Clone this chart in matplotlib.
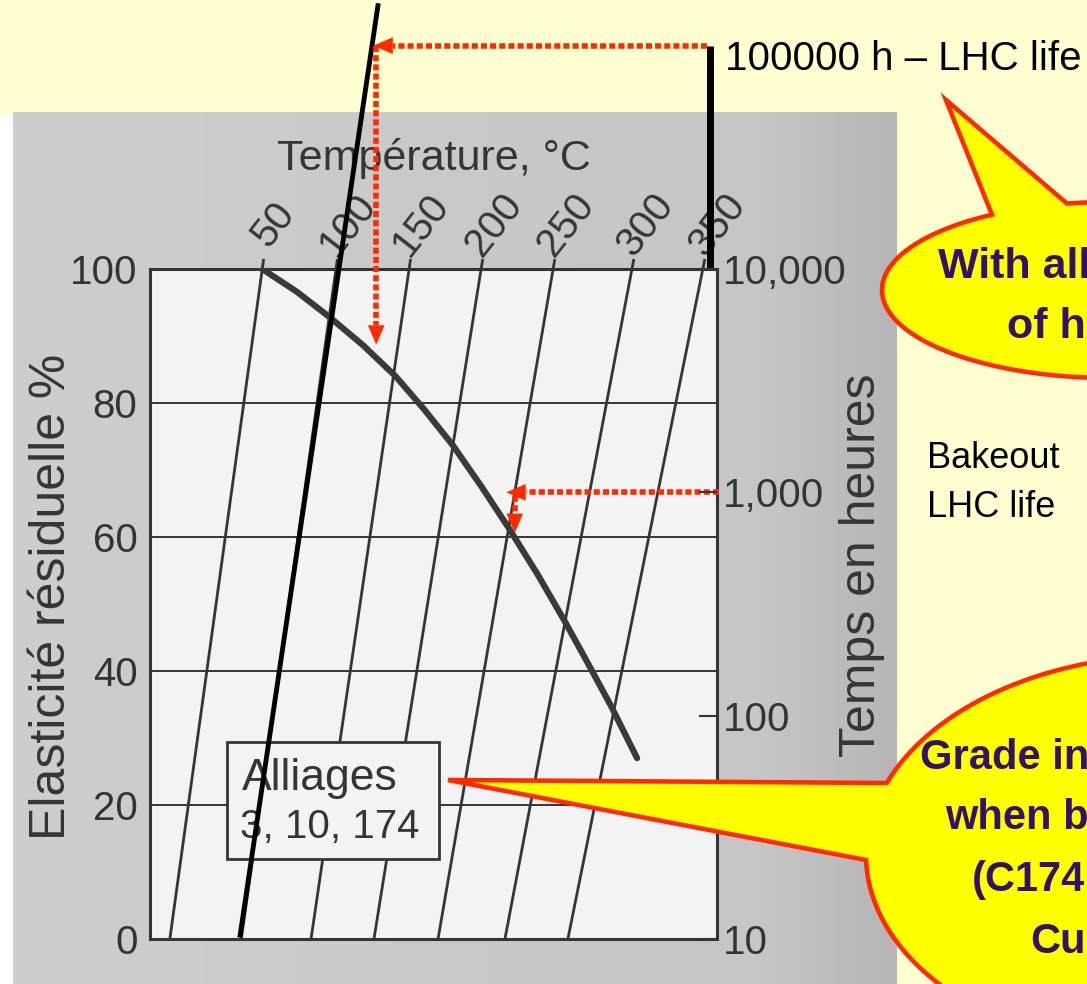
import numpy as np
import matplotlib
matplotlib.use("Agg")
import matplotlib.pyplot as plt
from matplotlib.patches import Rectangle, Polygon
from matplotlib.colors import LinearSegmentedColormap
from matplotlib.ticker import NullLocator

# ── Data ──────────────────────────────────────────────────────────────────────
# x = abstract parameter axis (0..100 across the box), y = residual elasticity %
temps_C = [50, 100, 150, 200, 250, 300, 350]
iso_P_10h = [3.5, 16.1, 28.4, 39.5, 50.8, 62.6, 73.7]        # isotherm at 10 h
iso_P_10000h = [19.8, 32.8, 45.7, 58.4, 71.1, 85.0, 97.5]    # isotherm at 10,000 h

curve_P = [19.8, 25.9, 31.7, 37.6, 43.3, 48.3, 53.4, 58.4, 63.3, 68.3, 73.1, 77.2, 81.3, 85.9]
curve_E = [100, 96.6, 92.8, 88.6, 84.0, 79.1, 73.7, 67.6, 61.3, 54.5, 47.5, 41.2, 34.8, 27.0]

E_ticks = [0, 20, 40, 60, 80, 100]
time_ticks = [10, 100, 1000, 10000]
time_labels = ["10", "100", "1,000", "10,000"]

# LHC life extrapolation (100 °C line carried up to 100000 h)
ext_P = [15.9, 40.2]
ext_hours = [10.4, 151000]
lhc_hours = 100000
lhc_axis_P = 98.8
lhc_P = 39.9
lhc_E = 88.7

# bakeout reading
bake_hours = 1000
bake_temp = 250
bake_E = 60.6

# ── Colours ───────────────────────────────────────────────────────────────────
YELLOW = "#ffffd2"
PAPER = "#f3f3f3"
INK = "#353535"
RED = "#ff2a00"
CALLOUT = "#ffff00"
PURPLE = "#331166"

SANS = ["Liberation Sans", "DejaVu Sans"]
plt.rcParams["font.family"] = SANS


def h2e(h):
    """hours on the right log axis -> position on the elasticity scale"""
    return (np.log10(h) - 1.0) / 3.0 * 100.0


def iso_P(i, h):
    L = np.log10(h)
    return iso_P_10h[i] + (iso_P_10000h[i] - iso_P_10h[i]) * (L - 1.0) / 3.0


W, H = 1087, 984
fig = plt.figure(figsize=(W / 100, H / 100), dpi=100)
fig.patch.set_facecolor(YELLOW)

# background: slide + scanned page (slightly darker towards the binding)
bg = fig.add_axes([0, 0, 1, 1], zorder=0)
bg.set_xlim(0, W)
bg.set_ylim(H, 0)
bg.axis("off")
scan_cmap = LinearSegmentedColormap.from_list(
    "scan", [(0, "#cecece"), (0.85, "#c6c6c6"), (1, "#b6b6b6")])
bg.imshow(np.linspace(0, 1, 200)[None, :], cmap=scan_cmap, aspect="auto",
          extent=(13, 897, 984, 112), interpolation="bilinear")
bg.add_patch(Rectangle((0, 115), 13, 869, fc="white", ec="none"))
bg.set_xlim(0, W)
bg.set_ylim(H, 0)

bg.text(434, 170, "Température, °C", ha="center", va="baseline", fontsize=31,
        color=INK)
bg.text(52, 597, "Elasticité résiduelle %", rotation=90, ha="center", va="center",
        fontsize=36, color=INK)
bg.text(862, 565, "Temps en heures", rotation=90, ha="center", va="center",
        fontsize=36, color=INK)
bg.text(725, 70, "100000 h – LHC life", ha="left", va="baseline", fontsize=29,
        color="black")
bg.text(927, 468, "Bakeout", ha="left", va="baseline", fontsize=26, color="black")
bg.text(927, 517, "LHC life", ha="left", va="baseline", fontsize=26, color="black")

# ── Nomogram box ──────────────────────────────────────────────────────────────
ax = fig.add_axes([150 / W, 1 - 939 / H, 567 / W, 670 / H], zorder=1)
ax.set_xlim(0, 100)
ax.set_ylim(0, 100)
ax.set_facecolor(PAPER)
for s in ax.spines.values():
    s.set_color(INK)
    s.set_linewidth(2.2)
ax.set_xticks([])
ax.set_yticks(E_ticks)
ax.tick_params(axis="y", length=0, pad=9, labelsize=29, labelcolor="#333333")
for e in E_ticks[1:-1]:
    ax.axhline(e, color=INK, lw=1.4, zorder=1.5)

# isotherms (with short ticks above the box)
for i, T in enumerate(temps_C):
    hs = np.array([10, 10 ** 4.045])
    ax.plot(iso_P(i, hs), h2e(hs), color=INK, lw=2.0, clip_on=False,
            solid_capstyle="butt", zorder=2)
    ht = 10 ** 4.2
    ax.annotate(str(T), xy=(iso_P(i, ht), h2e(ht)), xytext=(4, 0),
                textcoords="offset points", rotation=52, ha="center", va="center",
                fontsize=29, color=INK, annotation_clip=False)

# master curve
ax.plot(curve_P, curve_E, color="#3a3a3a", lw=4.5, solid_capstyle="round",
        solid_joinstyle="round", zorder=4)

# legend box
ax.add_patch(Rectangle((13.6, 11.9), 37.4, 17.5, fc=PAPER, ec=INK, lw=2, zorder=3))
ax.text(16.2, 22.2, "Alliages", ha="left", va="baseline", fontsize=32, color=INK,
        zorder=3.5)
ax.text(15.9, 15.1, "3, 10, 174", ha="left", va="baseline", fontsize=29, color=INK,
        zorder=3.5)

# black annotations: extrapolated 100 °C line and the 100000 h level
ax.plot(ext_P, h2e(np.array(ext_hours)), color="black", lw=3.5, clip_on=False, zorder=6)
ax.plot([lhc_axis_P, lhc_axis_P], [h2e(10000), h2e(lhc_hours)], color="black", lw=5,
        clip_on=False, solid_capstyle="butt", zorder=6)


# red reading arrows: thick dotted shaft + solid head
def red_arrow(x0, y0, x1, y1, back):
    dx, dy = x1 - x0, y1 - y0
    n = np.hypot(dx, dy)
    bx, by = x1 - dx / n * back[0], y1 - dy / n * back[1]
    ax.plot([x0, bx], [y0, by], color=RED, lw=4.0, dashes=(1.1, 0.55),
            dash_capstyle="butt", clip_on=False, zorder=7)
    ax.annotate("", xy=(x1, y1), xytext=(bx, by), annotation_clip=False, zorder=7,
                arrowprops=dict(arrowstyle="-|>,head_length=0.7,head_width=0.3",
                                mutation_scale=20, color=RED, lw=0,
                                shrinkA=0, shrinkB=0))


y_lhc = h2e(lhc_hours)
red_arrow(lhc_axis_P - 0.6, y_lhc, lhc_P - 0.5, y_lhc, (3.4, 0))
red_arrow(lhc_P, y_lhc, lhc_P, lhc_E, (0, 2.9))

bi = temps_C.index(bake_temp)
bake_P = iso_P(bi, bake_hours)
y_bake = h2e(bake_hours)
red_arrow(100.3, y_bake, bake_P - 1.5, y_bake, (3.4, 0))
red_arrow(bake_P, y_bake - 0.6, bake_P, bake_E, (0, 2.9))

# right log axis (hours)
ax2 = ax.twinx()
ax2.set_zorder(2)
ax2.patch.set_visible(False)
ax2.set_yscale("log")
ax2.set_ylim(10, 10000)
ax2.set_yticks(time_ticks)
ax2.set_yticklabels(time_labels)
ax2.yaxis.set_minor_locator(NullLocator())
ax2.tick_params(axis="y", direction="in", length=13, width=1.5, color=INK,
                pad=4, labelsize=29, labelcolor="#333333")
for s in ax2.spines.values():
    s.set_visible(False)

# ── Callouts (slide overlay, pixel coordinates) ───────────────────────────────
ov = fig.add_axes([0, 0, 1, 1], zorder=3)
ov.set_xlim(0, W)
ov.set_ylim(H, 0)
ov.axis("off")


def callout(cx, cy, a, b, th_start, th_end, tip):
    th = np.linspace(th_start, th_end, 240)
    pts = np.column_stack([cx + a * np.cos(th), cy + b * np.sin(th)])
    pts = np.vstack([pts, tip])
    ov.add_patch(Polygon(pts, closed=True, fc=CALLOUT, ec=RED, lw=3.3,
                         joinstyle="miter"))


def top_angle(cx, a, x):
    c = (x - cx) / a
    return np.arctan2(-np.sqrt(1 - c * c), c)


# upper callout
t1 = top_angle(1110, 228, 992) + 2 * np.pi
t2 = top_angle(1110, 228, 1067) + 2 * np.pi
callout(1110, 290, 228, 88, t2, t1 + 2 * np.pi, (946, 100))
ov.text(938, 278, "With all", fontsize=31, weight="bold", color=PURPLE)
ov.text(1007, 338, "of he", fontsize=31, weight="bold", color=PURPLE)

# lower callout
cy2, b2 = 855, 200
ta = np.pi + np.arcsin((cy2 - 783) / b2)
tb = 3 * np.pi - np.arcsin((cy2 - 850) / b2)
callout(1176, cy2, 310, b2, ta, tb, (448, 780))
for x, y, s in [(920, 769, "Grade in"), (945, 829, "when ba"),
                (972, 891, "(C174"), (1030, 953, "Cu")]:
    ov.text(x, y, s, fontsize=30, weight="bold", color=PURPLE)

fig.savefig("out.png", dpi=100, facecolor=fig.get_facecolor())
